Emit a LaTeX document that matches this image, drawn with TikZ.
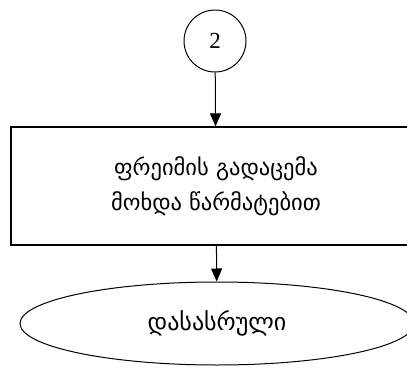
\documentclass[tikz,border=0pt]{standalone}
\usepackage{fontspec}
\setmainfont{Liberation Serif}
\newfontfamily\geofont{DejaVu Sans}
\usetikzlibrary{shapes.geometric,arrows.meta}
\tikzset{
% Flowchart node styles: connector, process box and terminal
connector node/.style={circle,draw,line width=1pt,minimum size=62pt,inner sep=0pt,font=\fontsize{23}{23}\selectfont},
process node/.style={rectangle,draw,line width=1.2pt,minimum width=410pt,minimum height=118pt,align=center,font=\geofont\fontsize{22.5}{35}\selectfont},
terminal node/.style={ellipse,draw,line width=1pt,minimum width=394pt,minimum height=83pt,inner sep=0pt,font=\geofont\fontsize{24}{24}\selectfont},
flow/.style={-{Triangle[length=13pt,width=11pt]},line width=1pt}
}
\begin{document}
\begin{tikzpicture}[x=1pt,y=-1pt]
\clip (0,0) rectangle (407,367);
% The nodes
\node(conn)[connector node] at (215,41) {2};
\node(msg)[process node] at (216,186) {ფრეიმის გადაცემა\\მოხდა წარმატებით};
\node(end)[terminal node] at (217,323.5) {დასასრული};
% The arrows
\draw[flow] (conn) -- (msg);
\draw[flow] (msg) -- (end);
\end{tikzpicture}
\end{document}
